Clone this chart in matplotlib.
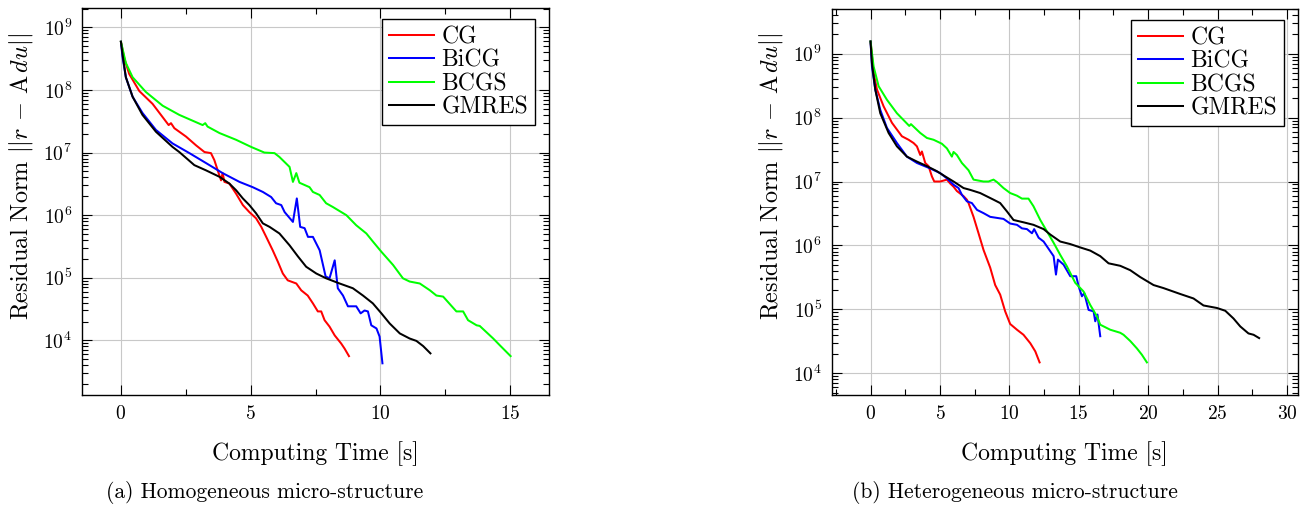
import matplotlib
matplotlib.use("Agg")
import matplotlib.pyplot as plt
from matplotlib.ticker import MultipleLocator, LogLocator, NullFormatter

plt.rcParams["font.family"] = "serif"
plt.rcParams["font.serif"] = ["cmr10"]
plt.rcParams["mathtext.fontset"] = "cm"
plt.rcParams["axes.formatter.use_mathtext"] = True

labels = ["CG", "BiCG", "BCGS", "GMRES"]
colors = ["#ff0000", "#0000ff", "#00ff00", "#000000"]

# (a) homogeneous micro-structure
homCgTime = [0, 0.13, 0.32, 0.71, 1.22, 1.84, 1.93, 2.06, 2.51, 2.90, 3.22, 3.47, 3.60, 3.73, 3.86, 3.92, 3.99, 4.18, 4.44, 4.70,
             4.95, 5.21, 5.41, 5.60, 5.85, 6.05, 6.24, 6.43, 6.76, 6.95, 7.20, 7.40, 7.59, 7.72, 7.85, 8.04, 8.24, 8.49, 8.62, 8.79]
homCgRes = [5.9e8, 3.2e8, 1.8e8, 9.6e7, 6.0e7, 2.75e7, 2.95e7, 2.45e7, 1.8e7, 1.3e7, 1.02e7, 9.8e6, 7.6e6, 5.2e6, 3.6e6, 4.7e6,
            3.4e6, 3.2e6, 2.2e6, 1.45e6, 1.12e6, 8.9e5, 6.5e5, 4.5e5, 2.75e5, 1.8e5, 1.17e5, 9.1e4, 8.1e4, 6.3e4, 5.2e4, 3.9e4,
            2.9e4, 2.9e4, 2.1e4, 1.66e4, 1.2e4, 8.9e3, 7.4e3, 5.6e3]
homBicgTime = [0, 0.06, 0.19, 0.45, 0.83, 1.35, 1.99, 2.64, 3.28, 3.92, 4.57, 5.08, 5.47, 5.79, 5.98, 6.18, 6.31, 6.63, 6.78, 6.91,
               7.08, 7.21, 7.40, 7.66, 7.89, 8.04, 8.24, 8.36, 8.56, 8.75, 9.07, 9.24, 9.39, 9.52, 9.65, 9.85, 9.97, 10.08]
homBicgRes = [5.9e8, 3.4e8, 1.6e8, 7.8e7, 4.3e7, 2.3e7, 1.4e7, 9.8e6, 6.8e6, 4.7e6, 3.4e6, 2.8e6, 2.35e6, 1.95e6, 1.55e6, 1.45e6,
              1.12e6, 7.8e5, 1.85e6, 6.5e5, 6.2e5, 4.5e5, 4.5e5, 2.75e5, 1.05e5, 9.8e4, 1.9e5, 6.8e4, 5.2e4, 3.5e4, 3.5e4, 2.7e4,
              3.0e4, 2.9e4, 1.74e4, 1.55e4, 1.15e4, 4.3e3]
homBcgsTime = [0, 0.19, 0.45, 0.96, 1.61, 2.25, 3.15, 3.25, 3.34, 3.80, 4.44, 5.02, 5.53, 5.92, 6.11, 6.50, 6.63, 6.76, 6.88, 7.27,
               7.40, 7.66, 7.91, 8.17, 8.69, 9.07, 9.46, 9.71, 10.04, 10.49, 10.87, 11.13, 11.52, 11.91, 12.16, 12.42, 12.93,
               13.19, 13.38, 13.71, 13.83, 14.35, 14.61, 15.02]
homBcgsRes = [5.9e8, 2.7e8, 1.6e8, 9.3e7, 5.6e7, 4.0e7, 2.75e7, 2.95e7, 2.6e7, 2.05e7, 1.6e7, 1.23e7, 1.0e7, 9.8e6, 8.5e6, 5.9e6,
              3.4e6, 4.7e6, 3.3e6, 2.8e6, 2.35e6, 2.1e6, 1.55e6, 1.35e6, 1.0e6, 6.9e5, 5.1e5, 3.8e5, 2.6e5, 1.6e5, 9.8e4, 8.7e4,
              8.1e4, 6.3e4, 5.2e4, 5.0e4, 2.9e4, 2.9e4, 2.1e4, 1.74e4, 1.7e4, 1.07e4, 8.3e3, 5.6e3]
homGmresTime = [0, 0.06, 0.19, 0.45, 0.83, 1.35, 1.99, 2.25, 2.83, 3.28, 3.80, 4.18, 4.44, 4.70, 4.95, 5.21, 5.47, 5.73, 6.11,
                6.50, 6.82, 7.14, 7.53, 7.91, 8.43, 8.94, 9.33, 9.71, 10.04, 10.36, 10.75, 11.13, 11.39, 11.65, 11.93]
homGmresRes = [5.9e8, 3.8e8, 1.6e8, 7.8e7, 4.0e7, 2.15e7, 1.23e7, 1.02e7, 6.3e6, 5.2e6, 4.1e6, 3.2e6, 2.5e6, 1.85e6, 1.45e6,
               1.07e6, 7.4e5, 6.5e5, 5.1e5, 3.3e5, 2.2e5, 1.5e5, 1.17e5, 9.8e4, 8.1e4, 6.8e4, 5.2e4, 3.9e4, 2.7e4, 1.86e4,
               1.29e4, 1.07e4, 9.8e3, 8.1e3, 6.2e3]

# (b) heterogeneous micro-structure
hetCgTime = [0, 0.22, 0.46, 0.94, 1.54, 1.90, 2.26, 2.74, 3.10, 3.34, 3.58, 3.70, 3.94, 4.18, 4.42, 4.59, 5.02, 5.50, 5.74, 5.98,
             6.22, 6.70, 6.94, 7.06, 7.42, 7.78, 8.14, 8.62, 8.98, 9.34, 9.70, 10.06, 10.55, 11.02, 11.51, 11.87, 12.18]
hetCgRes = [1.55e9, 5.0e8, 2.75e8, 1.5e8, 8.3e7, 6.5e7, 5.1e7, 4.5e7, 4.0e7, 3.55e7, 2.6e7, 2.95e7, 1.95e7, 1.74e7, 1.2e7, 1.0e7,
            1.0e7, 1.07e7, 9.3e6, 8.3e6, 7.1e6, 5.9e6, 5.2e6, 4.6e6, 2.8e6, 1.55e6, 8.5e5, 4.5e5, 2.4e5, 1.7e5, 9.3e4, 5.9e4,
            4.8e4, 4.0e4, 2.95e4, 2.2e4, 1.48e4]
hetBicgTime = [0, 0.10, 0.34, 0.70, 1.18, 1.90, 2.62, 3.34, 4.30, 5.02, 5.50, 5.98, 6.34, 6.58, 6.94, 7.30, 7.67, 8.14, 8.62, 9.58,
               10.06, 10.55, 10.91, 11.27, 11.63, 11.79, 12.11, 12.47, 12.95, 13.19, 13.36, 13.50, 13.91, 14.39, 14.82, 14.99,
               15.23, 15.40, 15.71, 16.07, 16.19, 16.35, 16.55]
hetBicgRes = [1.55e9, 6.3e8, 2.75e8, 1.32e8, 6.9e7, 4.0e7, 2.45e7, 1.95e7, 1.6e7, 1.35e7, 1.12e7, 8.9e6, 7.9e6, 6.2e6, 4.9e6,
              4.6e6, 3.6e6, 3.2e6, 2.8e6, 2.6e6, 2.2e6, 2.1e6, 1.85e6, 1.8e6, 1.55e6, 1.8e6, 1.32e6, 1.15e6, 8.1e5, 6.8e5,
              3.5e5, 6.0e5, 5.0e5, 3.3e5, 3.3e5, 2.3e5, 1.6e5, 1.8e5, 9.8e4, 9.3e4, 6.5e4, 8.3e4, 3.8e4]
hetBcgsTime = [0, 0.22, 0.58, 1.18, 1.90, 2.79, 2.91, 3.58, 4.06, 4.54, 5.14, 5.50, 5.86, 5.98, 6.22, 6.58, 7.06, 7.42, 8.14, 8.50,
               8.86, 9.11, 9.58, 10.06, 10.55, 10.91, 11.38, 11.74, 12.23, 12.71, 13.19, 13.67, 14.15, 14.75, 15.35, 15.83,
               16.31, 16.55, 17.27, 17.99, 18.23, 18.71, 19.19, 19.55, 19.91]
hetBcgsRes = [1.55e9, 6.3e8, 3.1e8, 1.9e8, 1.17e8, 7.4e7, 7.9e7, 5.75e7, 4.8e7, 4.5e7, 3.9e7, 3.3e7, 2.45e7, 2.9e7, 2.6e7, 1.95e7,
              1.5e7, 1.07e7, 1.0e7, 1.0e7, 1.07e7, 9.8e6, 7.9e6, 6.6e6, 6.0e6, 5.4e6, 5.4e6, 4.1e6, 2.5e6, 1.66e6, 1.1e6,
              7.1e5, 4.7e5, 2.6e5, 1.9e5, 1.17e5, 7.8e4, 5.75e4, 4.8e4, 4.3e4, 4.0e4, 3.2e4, 2.45e4, 1.95e4, 1.48e4]
hetGmresTime = [0, 0.10, 0.34, 0.70, 1.30, 1.90, 2.62, 3.34, 4.06, 4.78, 5.38, 5.98, 6.70, 7.18, 7.90, 8.86, 9.34, 9.83, 10.30,
                11.02, 11.74, 12.47, 12.95, 13.67, 14.39, 15.11, 15.83, 16.55, 17.15, 17.99, 18.71, 19.43, 20.39, 21.11,
                22.31, 23.27, 23.99, 24.96, 25.56, 26.15, 26.64, 27.23, 27.60, 28.00]
hetGmresRes = [1.55e9, 7.1e8, 2.75e8, 1.17e8, 5.75e7, 3.55e7, 2.45e7, 2.05e7, 1.74e7, 1.45e7, 1.2e7, 1.0e7, 7.9e6, 7.4e6, 6.6e6,
               5.2e6, 4.6e6, 3.4e6, 2.5e6, 2.3e6, 2.1e6, 1.8e6, 1.48e6, 1.15e6, 1.05e6, 9.3e5, 8.3e5, 6.8e5, 5.25e5, 4.8e5,
               4.1e5, 3.2e5, 2.4e5, 2.15e5, 1.74e5, 1.48e5, 1.15e5, 1.05e5, 9.5e4, 7.2e4, 5.4e4, 4.2e4, 4.0e4, 3.55e4]


def residualPlot(ax, times, residuals, xlim, ylim, xmajor):
    for (t, r, label, color) in zip(times, residuals, labels, colors):
        ax.plot(t, r, color=color, linewidth=1.45, label=label)
    ax.set_yscale("log")
    ax.set_xlim(*xlim)
    ax.set_ylim(*ylim)
    ax.xaxis.set_major_locator(MultipleLocator(xmajor))
    ax.xaxis.set_minor_locator(MultipleLocator(xmajor / 2))
    ax.yaxis.set_major_locator(LogLocator(base=10, numticks=20))
    ax.yaxis.set_minor_locator(LogLocator(base=10, subs=range(2, 10), numticks=20))
    ax.yaxis.set_minor_formatter(NullFormatter())
    ax.grid(True, which="major", color="#c8c8c8", linewidth=0.8)
    ax.set_axisbelow(True)
    ax.tick_params(which="both", direction="in", top=True, right=True, labelsize=14, pad=7, width=0.8)
    ax.tick_params(which="major", length=7)
    ax.tick_params(which="minor", length=4.5)
    for spine in ax.spines.values():
        spine.set_linewidth(1.0)
    ax.set_xlabel("Computing Time [s]", fontsize=17, labelpad=13)
    ax.set_ylabel(r"Residual Norm $||r\,-\,\mathrm{A}\,du||$", fontsize=17.5)
    ax.yaxis.set_label_coords(-0.10, 0.565)
    ax.legend(loc="upper right", bbox_to_anchor=(0.97, 0.971), fontsize=17, frameon=True, fancybox=False,
              edgecolor="black", framealpha=1, borderpad=0.3, labelspacing=0.05, handlelength=1.9,
              handletextpad=0.3, borderaxespad=0).get_frame().set_linewidth(1.0)


fig = plt.figure(figsize=(13.12, 5.12), dpi=100)
axA = fig.add_axes([82 / 1312, 1 - 395 / 512, 467 / 1312, 387 / 512])
axB = fig.add_axes([831.7 / 1312, 1 - 395 / 512, 466.3 / 1312, 386 / 512])

residualPlot(axA, [homCgTime, homBicgTime, homBcgsTime, homGmresTime], [homCgRes, homBicgRes, homBcgsRes, homGmresRes],
             (-1.5, 16.5), (1.34e3, 2.04e9), 5)
residualPlot(axB, [hetCgTime, hetBicgTime, hetBcgsTime, hetGmresTime], [hetCgRes, hetBicgRes, hetBcgsRes, hetGmresRes],
             (-2.8, 30.8), (4.57e3, 5.0e9), 5)

fig.text(265 / 1312, 14 / 512, "(a) Homogeneous micro-structure", ha="center", va="baseline", fontsize=15.5)
fig.text(1015 / 1312, 14 / 512, "(b) Heterogeneous micro-structure", ha="center", va="baseline", fontsize=15.5)

fig.savefig("out.png", dpi=100)
